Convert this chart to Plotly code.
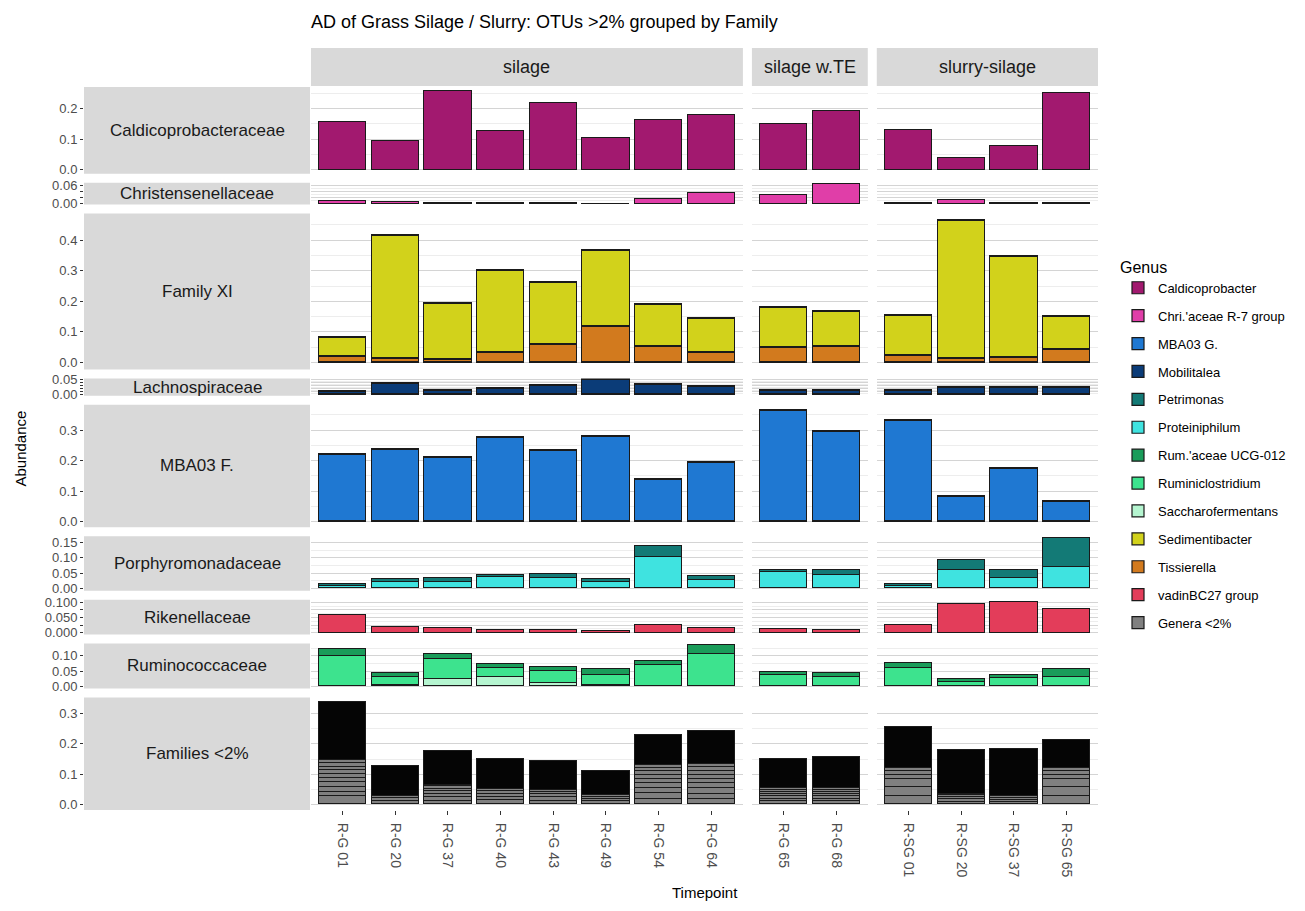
import plotly.graph_objects as go

# ---------------- data ----------------
title_text = "AD of Grass Silage / Slurry: OTUs >2% grouped by Family"
groups = ["silage", "silage w.TE", "slurry-silage"]
timepoints = [
    ["R-G 01", "R-G 20", "R-G 37", "R-G 40", "R-G 43", "R-G 49", "R-G 54", "R-G 64"],
    ["R-G 65", "R-G 68"],
    ["R-SG 01", "R-SG 20", "R-SG 37", "R-SG 65"],
]
families = ["Caldicoprobacteraceae", "Christensenellaceae", "Family XI", "Lachnospiraceae",
            "MBA03 F.", "Porphyromonadaceae", "Rikenellaceae", "Ruminococcaceae", "Families <2%"]

genus_order = ["Caldicoprobacter", "Chri.'aceae R-7 group", "MBA03 G.", "Mobilitalea", "Petrimonas",
               "Proteiniphilum", "Rum.'aceae UCG-012", "Ruminiclostridium", "Saccharofermentans",
               "Sedimentibacter", "Tissierella", "vadinBC27 group", "Genera <2%"]
genus_colors = ["#A2196F", "#E03EA8", "#1F78D2", "#0B3C78", "#137A76",
                "#3FE3E0", "#1A9C5A", "#3DE38E", "#B5F5D0",
                "#D2D21B", "#D27A1E", "#E33D5A", "#808080"]

# values in timepoint order (8 silage, 2 silage w.TE, 4 slurry-silage)
caldicoprobacter   = [0.156, 0.093, 0.258, 0.127, 0.218, 0.103, 0.162, 0.178, 0.151, 0.194, 0.130, 0.038, 0.077, 0.252]
chri_r7            = [0.010, 0.006, 0.003, 0.004, 0.003, 0.001, 0.017, 0.036, 0.028, 0.065, 0.003, 0.014, 0.003, 0.003]
tissierella        = [0.020, 0.012, 0.011, 0.031, 0.060, 0.117, 0.052, 0.031, 0.050, 0.052, 0.024, 0.012, 0.016, 0.041]
sedimentibacter    = [0.062, 0.403, 0.181, 0.271, 0.202, 0.250, 0.136, 0.111, 0.129, 0.114, 0.128, 0.452, 0.330, 0.109]
mobilitalea        = [0.010, 0.038, 0.013, 0.022, 0.032, 0.051, 0.033, 0.027, 0.015, 0.015, 0.015, 0.023, 0.023, 0.023]
mba03_g            = [0.218, 0.237, 0.211, 0.276, 0.233, 0.279, 0.138, 0.195, 0.365, 0.296, 0.331, 0.081, 0.173, 0.066]
proteiniphilum     = [0.005, 0.019, 0.021, 0.035, 0.033, 0.019, 0.103, 0.025, 0.051, 0.041, 0.005, 0.059, 0.032, 0.068]
petrimonas         = [0.008, 0.011, 0.012, 0.008, 0.013, 0.012, 0.033, 0.014, 0.007, 0.019, 0.007, 0.031, 0.027, 0.094]
vadinbc27          = [0.060, 0.019, 0.016, 0.010, 0.009, 0.007, 0.026, 0.015, 0.014, 0.010, 0.026, 0.094, 0.103, 0.080]
saccharofermentans = [0.000, 0.002, 0.023, 0.029, 0.011, 0.002, 0.000, 0.000, 0.000, 0.000, 0.000, 0.000, 0.000, 0.000]
ruminiclostridium  = [0.098, 0.028, 0.065, 0.031, 0.038, 0.034, 0.069, 0.104, 0.036, 0.029, 0.060, 0.014, 0.025, 0.030]
rum_ucg012         = [0.022, 0.012, 0.017, 0.012, 0.014, 0.019, 0.013, 0.030, 0.011, 0.014, 0.016, 0.010, 0.012, 0.027]

# Families <2%: visible low-abundance genus segments (bottom up) and bar totals
lowfam_totals = [0.335, 0.125, 0.175, 0.149, 0.141, 0.109, 0.227, 0.240, 0.149, 0.156, 0.253, 0.177, 0.182, 0.212]
lowfam_segments = [
    [0.027, 0.015, 0.015, 0.015, 0.014, 0.013, 0.014, 0.011, 0.011, 0.011],
    [0.012, 0.009, 0.006],
    [0.013, 0.011, 0.011, 0.009, 0.008, 0.007, 0.006],
    [0.015, 0.011, 0.009, 0.008, 0.007],
    [0.013, 0.011, 0.010, 0.008, 0.007],
    [0.010, 0.008, 0.007, 0.006],
    [0.019, 0.018, 0.016, 0.016, 0.013, 0.014, 0.013, 0.011, 0.009],
    [0.018, 0.017, 0.018, 0.016, 0.013, 0.014, 0.013, 0.014, 0.011],
    [0.010, 0.009, 0.008, 0.008, 0.007, 0.006, 0.006],
    [0.010, 0.009, 0.008, 0.008, 0.007, 0.007, 0.006],
    [0.029, 0.028, 0.026, 0.014, 0.011, 0.011],
    [0.009, 0.008, 0.007, 0.006, 0.005],
    [0.008, 0.007, 0.006, 0.006],
    [0.029, 0.028, 0.026, 0.014, 0.011, 0.011],
]

family_genera = {
    "Caldicoprobacteraceae": [("Caldicoprobacter", caldicoprobacter)],
    "Christensenellaceae": [("Chri.'aceae R-7 group", chri_r7)],
    "Family XI": [("Tissierella", tissierella), ("Sedimentibacter", sedimentibacter)],
    "Lachnospiraceae": [("Mobilitalea", mobilitalea)],
    "MBA03 F.": [("MBA03 G.", mba03_g)],
    "Porphyromonadaceae": [("Proteiniphilum", proteiniphilum), ("Petrimonas", petrimonas)],
    "Rikenellaceae": [("vadinBC27 group", vadinbc27)],
    "Ruminococcaceae": [("Saccharofermentans", saccharofermentans), ("Ruminiclostridium", ruminiclostridium),
                        ("Rum.'aceae UCG-012", rum_ucg012)],
}

# y-axis ticks per family row: (major tick values, labels, minor grid values)
row_ticks = [
    ([0, 0.1, 0.2], ["0.0", "0.1", "0.2"], [0.05, 0.15, 0.25]),
    ([0, 0.02, 0.04, 0.06], ["0.00", "", "", "0.06"], [0.01, 0.03, 0.05]),
    ([0, 0.1, 0.2, 0.3, 0.4], ["0.0", "0.1", "0.2", "0.3", "0.4"], [0.05, 0.15, 0.25, 0.35, 0.45]),
    ([0, 0.01, 0.02, 0.03, 0.04, 0.05], ["0.00", "", "", "", "", "0.05"], [0.005, 0.015, 0.025, 0.035, 0.045]),
    ([0, 0.1, 0.2, 0.3], ["0.0", "0.1", "0.2", "0.3"], [0.05, 0.15, 0.25, 0.35]),
    ([0, 0.05, 0.1, 0.15], ["0.00", "0.05", "0.10", "0.15"], [0.025, 0.075, 0.125]),
    ([0, 0.025, 0.05, 0.075, 0.1], ["0.000", "", "0.050", "", "0.100"], [0.0125, 0.0375, 0.0625, 0.0875]),
    ([0, 0.05, 0.1], ["0.00", "0.05", "0.10"], [0.025, 0.075, 0.125]),
    ([0, 0.1, 0.2, 0.3], ["0.0", "0.1", "0.2", "0.3"], [0.05, 0.15, 0.25]),
]

# ---------------- layout geometry (page pixels; page body has an 8px margin) ----------------
PAGE_OFF = 8
W, H = 1305 - 2 * PAGE_OFF, 911 - 2 * PAGE_OFF
FONT = "Liberation Sans, Arial, sans-serif"
def fx(p): return (p - PAGE_OFF) / W
def fy(p): return 1 - (p - PAGE_OFF) / H

ncol = [len(t) for t in timepoints]
offsets = [0, ncol[0], ncol[0] + ncol[1]]
col_units = [n + 0.2 for n in ncol]
left_px, right_px, cgap = 311, 1098, 9
ux = (right_px - left_px - cgap * 2) / sum(col_units)
col_px = []
x0 = left_px
for u in col_units:
    col_px.append((x0, x0 + u * ux))
    x0 = x0 + u * ux + cgap

# row maxima from data
row_max = []
for fam in families:
    if fam == "Families <2%":
        row_max.append(max(lowfam_totals))
    else:
        tot = [sum(v[i] for _, v in family_genera[fam]) for i in range(14)]
        row_max.append(max(tot))
row_ranges = [(-0.05 * m, 1.05 * m) for m in row_max]
top_px, bot_px, rgap = 87, 810, 9
uy = (bot_px - top_px - rgap * 8) / sum(r[1] - r[0] for r in row_ranges)
row_px = []
y0 = top_px
for r in row_ranges:
    h = (r[1] - r[0]) * uy
    row_px.append((y0, y0 + h))
    y0 = y0 + h + rgap

fig = go.Figure()
layout = {}
shown = set()
LINE = dict(color="#1a1a1a", width=1.2)

def add_bar(k, cats, vals, name, color, legend=True):
    xs, ys = [], []
    for c, v in zip(cats, vals):
        if v and v > 0:
            xs.append(c); ys.append(v)
    if not xs:
        return
    show = legend and name not in shown
    if show:
        shown.add(name)
    fig.add_trace(go.Bar(
        x=xs, y=ys, name=name, width=0.9,
        marker=dict(color=color, line=LINE),
        xaxis="x" if k == 1 else f"x{k}", yaxis="y" if k == 1 else f"y{k}",
        legendgroup=name, showlegend=show,
        legendrank=genus_order.index(name) + 1 if name in genus_order else 1000,
    ))

for r, fam in enumerate(families):
    for c in range(3):
        k = r * 3 + c + 1
        cats = timepoints[c]
        sl = slice(offsets[c], offsets[c] + ncol[c])
        if fam == "Families <2%":
            segs = lowfam_segments[sl]
            tots = lowfam_totals[sl]
            nseg = max(len(s) for s in segs)
            for j in range(nseg):
                vals = [s[j] if j < len(s) else 0 for s in segs]
                add_bar(k, cats, vals, "Genera <2%", genus_colors[-1])
            tail = [t - sum(s) for t, s in zip(tots, segs)]
            add_bar(k, cats, tail, "Genera <2%", "#050505", legend=False)
        else:
            for gname, vals in family_genera[fam]:
                add_bar(k, cats, vals[sl], gname, genus_colors[genus_order.index(gname)])

        xd = (fx(col_px[c][0]), fx(col_px[c][1]))
        yd = (fy(row_px[r][1]), fy(row_px[r][0]))
        xname = "xaxis" if k == 1 else f"xaxis{k}"
        yname = "yaxis" if k == 1 else f"yaxis{k}"
        bottom = r == len(families) - 1
        layout[xname] = dict(
            domain=list(xd), anchor="y" if k == 1 else f"y{k}", type="category",
            categoryorder="array", categoryarray=cats, automargin=False,
            range=[-0.6, ncol[c] - 0.4], showgrid=False, zeroline=False, showline=False,
            showticklabels=bottom, ticks="outside" if bottom else "", ticklen=4,
            tickcolor="#333333", tickangle=90, ticklabelstandoff=5,
            tickfont=dict(family=FONT, size=14, color="#4D4D4D"), fixedrange=True,
        )
        tv, tt, mv = row_ticks[r]
        yax = dict(
            domain=list(yd), range=list(row_ranges[r]), zeroline=False, showline=False,
            tickmode="array", tickvals=tv, ticktext=tt, automargin=False,
            showgrid=True, gridcolor="#D4D4D4", gridwidth=1,
            minor=dict(tickmode="array", tickvals=mv, showgrid=True, gridcolor="#EDEDED", gridwidth=0.8),
            fixedrange=True,
        )
        if c == 0:
            yax.update(anchor="free", position=fx(83), ticks="outside", ticklen=3,
                       tickcolor="#333333", showticklabels=True,
                       tickfont=dict(family=FONT, size=13, color="#4D4D4D"))
        else:
            yax.update(anchor="x" if k == 1 else f"x{k}", ticks="", showticklabels=False)
        layout[yname] = yax

shapes = []
annotations = []
STRIP = "#D9D9D9"
# column strips
for c, g in enumerate(groups):
    shapes.append(dict(type="rect", xref="paper", yref="paper", layer="below",
                       x0=fx(col_px[c][0]), x1=fx(col_px[c][1]), y0=fy(86), y1=fy(48),
                       fillcolor=STRIP, line=dict(width=0)))
    annotations.append(dict(text=g, xref="paper", yref="paper", showarrow=False,
                            x=fx((col_px[c][0] + col_px[c][1]) / 2), y=fy(67),
                            xanchor="center", yanchor="middle",
                            font=dict(family=FONT, size=18, color="#1A1A1A")))
# row strips
for r, fam in enumerate(families):
    shapes.append(dict(type="rect", xref="paper", yref="paper", layer="below",
                       x0=fx(84), x1=fx(310), y0=fy(row_px[r][1]), y1=fy(row_px[r][0]),
                       fillcolor=STRIP, line=dict(width=0)))
    annotations.append(dict(text=fam, xref="paper", yref="paper", showarrow=False,
                            x=fx(197), y=fy((row_px[r][0] + row_px[r][1]) / 2),
                            xanchor="center", yanchor="middle",
                            font=dict(family=FONT, size=17, color="#1A1A1A")))

annotations.append(dict(text="Abundance", xref="paper", yref="paper", showarrow=False,
                        x=fx(20), y=fy((top_px + bot_px) / 2), textangle=-90,
                        xanchor="center", yanchor="middle",
                        font=dict(family=FONT, size=15, color="#000000")))
annotations.append(dict(text="Timepoint", xref="paper", yref="paper", showarrow=False,
                        x=fx((left_px + right_px) / 2), y=fy(892),
                        xanchor="center", yanchor="middle",
                        font=dict(family=FONT, size=15, color="#000000")))

fig.update_layout(
    width=W, height=H,
    margin=dict(l=0, r=0, t=0, b=0, autoexpand=False),
    paper_bgcolor="white", plot_bgcolor="white",
    barmode="stack", bargap=0,
    title=dict(text=title_text, x=fx(311), xanchor="left", y=fy(22), yanchor="middle",
               font=dict(family=FONT, size=18, color="#000000")),
    legend=dict(x=fx(1118), y=fy(252), xanchor="left", yanchor="top",
                title=dict(text="Genus", font=dict(family=FONT, size=16, color="#000000")),
                font=dict(family=FONT, size=13, color="#000000"),
                tracegroupgap=8, bgcolor="rgba(0,0,0,0)", traceorder="grouped"),
    shapes=shapes, annotations=annotations,
    **layout,
)

fig.write_html("out.html")
